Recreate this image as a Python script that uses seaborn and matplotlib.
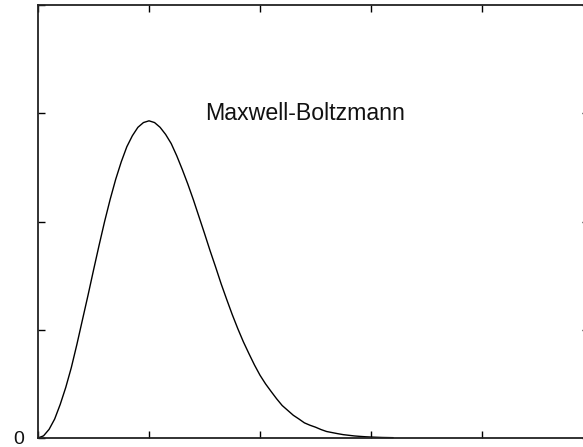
import matplotlib
matplotlib.use("Agg")
import matplotlib.pyplot as plt
import seaborn as sns
import pandas as pd

# Values
speed = [0.0, 0.05, 0.1, 0.15, 0.2, 0.25, 0.3, 0.35, 0.4, 0.45, 0.5, 0.55,
         0.6, 0.65, 0.7, 0.75, 0.8, 0.85, 0.9, 0.95, 1.0, 1.05, 1.1, 1.15,
         1.2, 1.25, 1.3, 1.35, 1.4, 1.45, 1.5, 1.55, 1.6, 1.65, 1.7, 1.75,
         1.8, 1.85, 1.9, 1.95, 2.0, 2.05, 2.1, 2.15, 2.2, 2.25, 2.3, 2.35,
         2.4, 2.45, 2.5, 2.55, 2.6, 2.65, 2.7, 2.75, 2.8, 2.85, 2.9, 2.95,
         3.0, 3.05, 3.1, 3.15, 3.2]
density = [0.0, 0.02, 0.08, 0.175, 0.31, 0.467, 0.65, 0.863, 1.09, 1.316,
           1.55, 1.779, 2.00, 2.204, 2.39, 2.551, 2.69, 2.792, 2.87, 2.914,
           2.93, 2.914, 2.87, 2.804, 2.72, 2.607, 2.48, 2.345, 2.20, 2.045,
           1.89, 1.731, 1.58, 1.424, 1.28, 1.140, 1.01, 0.889, 0.78, 0.675,
           0.58, 0.500, 0.43, 0.362, 0.30, 0.255, 0.21, 0.176, 0.14, 0.118,
           0.10, 0.078, 0.06, 0.050, 0.04, 0.031, 0.025, 0.019, 0.015, 0.0115,
           0.009, 0.0068, 0.005, 0.004, 0.003]
x_ticks = [0, 1, 2, 3, 4]
y_ticks = [0, 1, 2, 3, 4]
y_tick_labels = ["0", "", "", "", ""]
label_text = "Maxwell-Boltzmann"

sns.set_style("white")
plt.rcParams["font.family"] = ["Liberation Sans", "DejaVu Sans"]

W, H = 583, 447
fig = plt.figure(figsize=(W / 100, H / 100), dpi=100)
px = 111.0
left, bottom = 38, 447 - 438
xmax = 4.96
ax = fig.add_axes([left / W, bottom / H, xmax * px / W, 433 / H])

df = pd.DataFrame({"speed": speed, "density": density})
sns.lineplot(data=df, x="speed", y="density", ax=ax, color="black", lw=1.0,
             clip_on=False)

ax.set_xlim(0, xmax)
ax.set_ylim(0, 4)
ax.set_xticks(x_ticks)
ax.set_xticklabels([])
ax.set_yticks(y_ticks)
ax.set_yticklabels(y_tick_labels, fontsize=14, color="#111111")
ax.set_xlabel("")
ax.set_ylabel("")
ax.tick_params(direction="in", length=5, width=1.0, color="black",
               top=True, right=True, bottom=True, left=True, pad=10)
for s in ax.spines.values():
    s.set_color("#222222")
    s.set_linewidth(1.3)

ax.text(1.505, 2.94, label_text, fontsize=16.7, color="#111111",
        ha="left", va="baseline")

fig.savefig("out.png", dpi=100)
